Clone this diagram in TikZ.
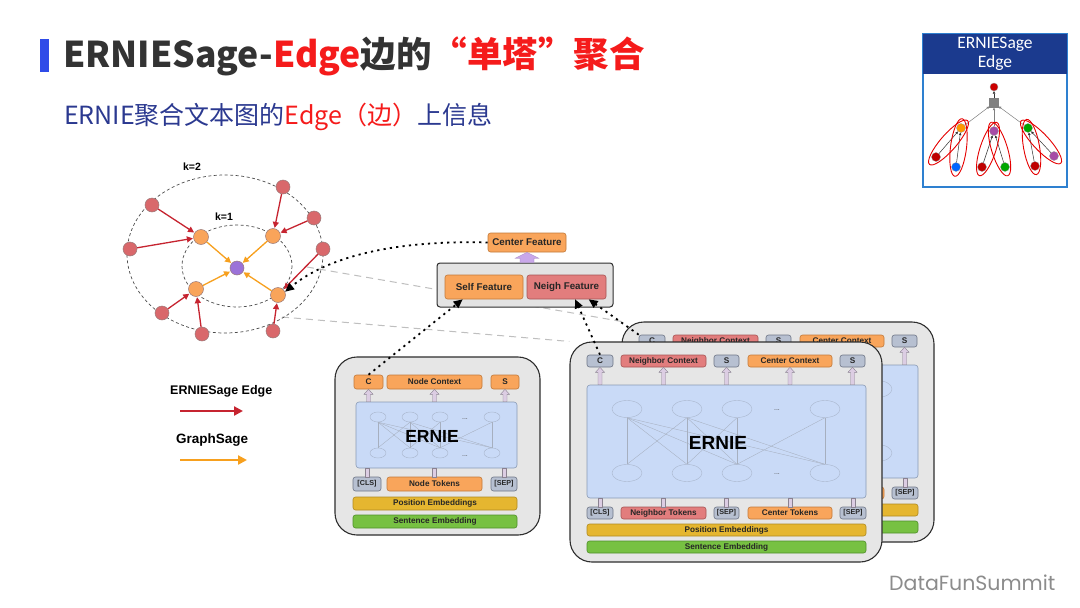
\documentclass[tikz,border=0pt]{standalone}
\usepackage{fontspec}
\setmainfont{Liberation Sans}
\newfontfamily\cjk{Noto Sans CJK SC}
\newfontfamily\lab{Liberation Sans}
\newfontfamily\cali{Carlito}
\newfontfamily\dfs{Poppins}
\usetikzlibrary{arrows.meta,calc,shapes.geometric}
\pgfdeclarelayer{back}
\pgfdeclarelayer{bg}
\pgfsetlayers{back,bg,main}
\definecolor{tgray}{HTML}{333333}
\definecolor{tred}{HTML}{F51B1B}
\definecolor{sblue}{HTML}{2B3990}
\definecolor{barblue}{HTML}{2F4BE8}
\definecolor{cardfill}{HTML}{E6E6E6}
\definecolor{cardln}{HTML}{2E2E2E}
\definecolor{tokgray}{HTML}{B7C0D1}
\definecolor{tokgrayln}{HTML}{6E7687}
\definecolor{tokor}{HTML}{F9A55B}
\definecolor{tokorln}{HTML}{C27A3A}
\definecolor{tokred}{HTML}{E27D7D}
\definecolor{tokredln}{HTML}{A65555}
\definecolor{tokyel}{HTML}{E5B630}
\definecolor{tokyelln}{HTML}{B08A20}
\definecolor{tokgrn}{HTML}{77C142}
\definecolor{tokgrnln}{HTML}{4F8F2A}
\definecolor{eboxfill}{HTML}{C9DAF7}
\definecolor{eboxln}{HTML}{8A9BB5}
\definecolor{ellln}{HTML}{A9B6CC}
\definecolor{meshln}{HTML}{A6AFBF}
\definecolor{arrfill}{HTML}{DCCDE3}
\definecolor{arrln}{HTML}{8A8290}
\definecolor{gred}{HTML}{D9686B}
\definecolor{gnodeln}{HTML}{9A7A7A}
\definecolor{gor}{HTML}{F9A45A}
\definecolor{gpur}{HTML}{9B72D8}
\definecolor{garred}{HTML}{C62430}
\definecolor{garor}{HTML}{F7A01E}
\definecolor{featfill}{HTML}{E3E3E3}
\definecolor{featarr}{HTML}{C9A7EA}
\definecolor{iconblue}{HTML}{2E80D0}
\definecolor{hdrblue}{HTML}{1B3A8E}
\definecolor{dfgray}{HTML}{8C8C8C}
\tikzset{
 card/.style={draw=cardln, fill=cardfill, line width=1.1pt, rounded corners=22pt},
 tokbase/.style={rounded corners=2.5pt, line width=0.6pt, inner sep=0pt, font=\lab\bfseries\fontsize{8.2}{9}\selectfont, text=black!85},
 tsm/.style={font=\lab\bfseries\fontsize{7.2}{8}\selectfont},
 tokg/.style={tokbase, fill=tokgray, draw=tokgrayln},
 toko/.style={tokbase, fill=tokor, draw=tokorln},
 tokr/.style={tokbase, fill=tokred, draw=tokredln},
 toky/.style={tokbase, fill=tokyel, draw=tokyelln},
 tokgr/.style={tokbase, fill=tokgrn, draw=tokgrnln},
 featbox/.style={draw=cardln, fill=featfill, line width=1pt, rounded corners=3pt},
 fbig/.style={font=\lab\bfseries\fontsize{9.8}{11}\selectfont},
 ebox/.style={draw=eboxln, fill=eboxfill, line width=0.6pt, rounded corners=3pt},
 ell/.style={ellipse, draw=ellln, line width=0.4pt, inner sep=0pt},
 mesh/.style={draw=meshln, line width=0.35pt},
 arrst/.style={fill=arrfill, draw=arrln, line width=0.4pt},
 dotsl/.style={font=\lab\fontsize{7}{8}\selectfont, text=black!70},
 gnode/.style={circle, draw=gnodeln, line width=0.5pt, minimum size=14pt, inner sep=0pt},
 rnode/.style={gnode, fill=gred},
 onode/.style={gnode, fill=gor, minimum size=15pt},
 pnode/.style={gnode, fill=gpur},
 rarr/.style={draw=garred, line width=1.3pt, -{Triangle[length=6pt,width=6pt]}, shorten >=0.5pt},
 oarr/.style={draw=garor, line width=1.3pt, -{Triangle[length=6pt,width=6pt]}, shorten >=0.5pt},
 dotarr/.style={line width=1.8pt, dash pattern=on 2.2pt off 4.2pt, -{Triangle[length=9pt,width=8pt]}},
 graydash/.style={draw=black!25, line width=1pt, dash pattern=on 7pt off 5pt},
 ringd/.style={draw=black!70, line width=0.7pt, dash pattern=on 3pt off 2.5pt},
 klab/.style={font=\lab\bfseries\fontsize{10.5}{12}\selectfont},
 leglab/.style={font=\lab\bfseries\fontsize{12.5}{14}\selectfont, anchor=west, inner sep=0pt},
 inode/.style={circle, draw=black!40, line width=0.3pt, minimum size=9pt, inner sep=0pt},
 iarr/.style={draw=black!80, line width=0.5pt, -{Triangle[length=2.5pt,width=2.5pt]}},
 iring/.style={draw=red!90!black, line width=0.9pt},
}
\newif\ifbacktower
\newcommand\vt[1]{\ifbacktower\else#1\fi}
\newcommand\boxn[7]{\node[#1, minimum width={((#5)-(#3))*1pt}, minimum height={((#6)-(#4))*1pt}] (#2) at ({((#3)+(#5))/2},{((#4)+(#6))/2}) {#7};}
\newcommand\tbox[6]{\boxn{#1}{\tp#2}{\tx+#3}{\ty+#4}{\tx+#5}{\ty+#6}}
% block arrow from box (#2) up to token (#1)
\newcommand\upblk[2]{\filldraw[arrst] let \p1=(#1.south), \p2=(#2.north) in (\x1-2pt,\y2) -- (\x1-2pt,\y1-5pt) -- (\x1-4.5pt,\y1-5pt) -- (\x1,\y1) -- (\x1+4.5pt,\y1-5pt) -- (\x1+2pt,\y1-5pt) -- (\x1+2pt,\y2) -- cycle;}
\newcommand\stemblk[2]{\filldraw[arrst] let \p1=(#1.north), \p2=(#2.south) in (\x1-2pt,\y1) rectangle (\x1+2pt,\y2);}
\newcommand\drawtower{%
 \tbox{card}{card}{570}{342}{882}{562}{}
 \tbox{tokg}{C}{587}{355}{613}{367}{C}
 \tbox{tokr}{NC}{621}{355}{706}{367}{Neighbor Context}
 \tbox{tokg}{Sa}{714}{355}{739}{367}{S}
 \tbox{toko}{CC}{748}{355}{832}{367}{Center Context}
 \tbox{tokg}{Sb}{840}{355}{865}{367}{S}
 \tbox{ebox}{E}{587}{385}{866}{498}{}
 \foreach \n/\xx in {1/627,2/687,3/737,4/825}{
   \node[ell, minimum width=30pt, minimum height=17pt] (\tp t\n) at ({\tx+\xx},{\ty+409}) {};
   \node[ell, minimum width=30pt, minimum height=17pt] (\tp b\n) at ({\tx+\xx},{\ty+473}) {};
 }
 \node[dotsl] (\tp td) at ({\tx+777},{\ty+410}) {\vt{...}};
 \node[dotsl] (\tp bd) at ({\tx+777},{\ty+474}) {\vt{...}};
 \foreach \a/\b in {1/1,1/2,2/1,2/2,2/3,3/1,3/2,3/3,3/4,4/1,4/2,4/4}{
   \draw[mesh] (\tp b\a.north) -- (\tp t\b.south);
 }
 \node[font=\lab\bfseries\fontsize{19}{21}\selectfont] (\tp lab) at ({\tx+718},{\ty+443}) {\vt{ERNIE}};
 \tbox{tokg,tsm}{CLS}{587}{507}{613}{519}{\vt{[CLS]}}
 \tbox{tokr}{NT}{621}{507}{706}{519}{\vt{Neighbor Tokens}}
 \tbox{tokg,tsm}{SEa}{714}{507}{739}{519}{\vt{[SEP]}}
 \tbox{toko}{CT}{748}{507}{832}{519}{\vt{Center Tokens}}
 \tbox{tokg,tsm}{SEb}{840}{507}{866}{519}{[SEP]}
 \tbox{toky}{PE}{587}{524}{866}{536}{\vt{Position Embeddings}}
 \tbox{tokgr}{SE}{587}{541}{866}{553}{\vt{Sentence Embedding}}
 \foreach \k in {C,NC,Sa,CC,Sb}{\upblk{\tp\k}{\tp E}}
 \foreach \k in {CLS,NT,SEa,CT,SEb}{\stemblk{\tp\k}{\tp E}}
}
\begin{document}
\begin{tikzpicture}[x=1pt,y=-1pt]
\begin{pgfonlayer}{back}
\fill[white] (0,0) rectangle (1080,608);
\end{pgfonlayer}
\useasboundingbox (0,0) rectangle (1080,608);
% ---------- title ----------
\fill[barblue] (40,39) rectangle (49,72);
\node[anchor=west, inner sep=0pt, font=\cjk\bfseries\fontsize{35.5}{40}\selectfont] (title) at (63,56)
  {\textcolor{tgray}{ERNIESage-}\textcolor{tred}{Edge}\textcolor{tgray}{边的}\textcolor{tred}{“单塔”聚合}};
\node[anchor=west, inner sep=0pt, font=\cjk\fontsize{25}{27}\selectfont] (subtitle) at (64,117)
  {\textcolor{sblue}{ERNIE聚合文本图的}\textcolor{tred}{Edge（边）}\textcolor{sblue}{上信息}};
% ---------- icon ----------
\node[draw=iconblue, line width=1.3pt, fill=white, minimum width=144pt, minimum height=153pt, inner sep=0pt] (icon) at (995,110.5) {};
\boxn{fill=hdrblue, inner sep=0pt, text=white, align=center, font=\cali\fontsize{17.5}{19}\selectfont}{ihdr}{923}{34}{1067}{74}{ERNIESage\\Edge}
\node[inode, fill=red!80!black, minimum size=8pt] (ir) at (994,87) {};
\node[draw=black!50, fill=black!50, minimum size=9pt, inner sep=0pt] (isq) at (994,103) {};
\node[inode, fill=orange!80!yellow] (ia) at (961,128) {};
\node[inode, fill=violet!70] (ib) at (994,131) {};
\node[inode, fill=green!65!black] (ic) at (1028,128) {};
\node[inode, fill=red!75!black] (il1) at (936,157) {};
\node[inode, fill=blue!60!cyan] (il2) at (956,167) {};
\node[inode, fill=red!75!black] (il3) at (982,167) {};
\node[inode, fill=green!65!black] (il4) at (1005,167) {};
\node[inode, fill=red!75!black] (il5) at (1035,166) {};
\node[inode, fill=violet!70] (il6) at (1054,156) {};
\draw[iarr] (isq) -- (ir);
\foreach \c in {ia,ib,ic}{\draw[iarr, draw=black!50] (\c) -- (isq);}
\draw[iarr] (il1) -- (ia); \draw[iarr] (il2) -- (ia);
\draw[iarr] (il3) -- (ib); \draw[iarr] (il4) -- (ib);
\draw[iarr] (il5) -- (ic); \draw[iarr] (il6) -- (ic);
\draw[iring, rotate around={49:(948.5,142.5)}] (948.5,142.5) ellipse (29 and 8);
\draw[iring, rotate around={83:(958.5,147.5)}] (958.5,147.5) ellipse (29 and 8);
\draw[iring, rotate around={72:(988,149)}] (988,149) ellipse (28 and 8);
\draw[iring, rotate around={107:(999.5,149)}] (999.5,149) ellipse (28 and 8);
\draw[iring, rotate around={100:(1031.5,147)}] (1031.5,147) ellipse (28 and 8);
\draw[iring, rotate around={133:(1041,142)}] (1041,142) ellipse (29 and 8);
% ---------- graph ----------
\draw[ringd] (225,254) ellipse (98 and 79);
\draw[ringd] (237,266) ellipse (55 and 41);
\node[klab] (k2) at (192,167) {k=2};
\node[klab] (k1) at (224,217) {k=1};
\node[pnode] (c) at (237,268) {};
\node[onode] (o1) at (201,237) {};
\node[onode] (o2) at (273,236) {};
\node[onode] (o3) at (196,289) {};
\node[onode] (o4) at (278,295) {};
\node[rnode] (r1) at (152,205) {};
\node[rnode] (r2) at (283,187) {};
\node[rnode] (r3) at (314,218) {};
\node[rnode] (r4) at (130,249) {};
\node[rnode] (r5) at (323,249) {};
\node[rnode] (r6) at (162,313) {};
\node[rnode] (r7) at (202,334) {};
\node[rnode] (r8) at (273,331) {};
\draw[rarr] (r1) -- (o1); \draw[rarr] (r4) -- (o1);
\draw[rarr] (r2) -- (o2); \draw[rarr] (r3) -- (o2);
\draw[rarr] (r5) -- (o4); \draw[rarr] (r8) -- (o4);
\draw[rarr] (r6) -- (o3); \draw[rarr] (r7) -- (o3);
\foreach \o in {o1,o2,o3,o4}{\draw[oarr] (\o) -- (c);}
% ---------- legend ----------
\node[leglab] (lg1) at (170,391) {ERNIESage Edge};
\node[leglab, font=\lab\bfseries\fontsize{13.5}{15}\selectfont] (lg2) at (176,440) {GraphSage};
\coordinate (l1a) at (180,411); \coordinate (l1b) at (243,411);
\coordinate (l2a) at (180,460); \coordinate (l2b) at (247,460);
\draw[draw=garred, line width=2.2pt, -{Triangle[length=9pt,width=9pt]}] (l1a) -- (l1b);
\draw[draw=garor, line width=2.2pt, -{Triangle[length=9pt,width=9pt]}] (l2a) -- (l2b);
% ---------- towers ----------
\def\tp{b}\def\tx{52}\def\ty{-20}\backtowertrue
\drawtower
\def\tp{f}\def\tx{0}\def\ty{0}\backtowerfalse
\drawtower
% ---------- single tower ----------
\boxn{card}{lcard}{335}{357}{540}{535}{}
\boxn{toko}{lC}{354}{375}{383}{389}{C}
\boxn{toko}{lNC}{387}{375}{482}{389}{Node Context}
\boxn{toko}{lS}{491}{375}{519}{389}{S}
\boxn{ebox}{lE}{356}{402}{517}{468}{}
\foreach \n/\xx in {1/378,2/410,3/440,4/492}{
  \node[ell, minimum width=16pt, minimum height=10pt] (lt\n) at (\xx,417) {};
  \node[ell, minimum width=16pt, minimum height=10pt] (lb\n) at (\xx,453) {};
}
\node[dotsl] (ltd) at (465,419) {...};
\node[dotsl] (lbd) at (465,456) {...};
\foreach \a/\b in {1/1,1/2,2/1,2/2,2/3,3/1,3/2,3/3,3/4,4/1,4/2,4/4}{
  \draw[mesh] (lb\a.north) -- (lt\b.south);
}
\node[font=\lab\bfseries\fontsize{17.5}{19}\selectfont] (llab) at (432,436) {ERNIE};
\boxn{tokg,tsm}{lCLS}{353}{477}{381}{491}{[CLS]}
\boxn{toko}{lNT}{387}{477}{482}{491}{Node Tokens}
\boxn{tokg,tsm}{lSEP}{491}{477}{517}{491}{[SEP]}
\boxn{toky}{lPE}{353}{497}{517}{510}{Position Embeddings}
\boxn{tokgr}{lSE}{353}{515}{517}{528}{Sentence Embedding}
\foreach \k in {lC,lNC,lS}{\upblk{\k}{lE}}
\foreach \k in {lCLS,lNT,lSEP}{\stemblk{\k}{lE}}
% ---------- feature box ----------
\boxn{featbox}{feat}{437}{263}{613}{307}{}
\boxn{toko,fbig}{self}{445}{275}{523}{299}{Self Feature}
\boxn{tokr,fbig}{neigh}{527}{275}{606}{299}{Neigh Feature}
\boxn{toko,fbig}{cf}{488}{233}{566}{252}{Center Feature}
\filldraw[fill=featarr, draw=featarr!80!black, line width=0.3pt] let \p1=(cf.south), \p2=(feat.north) in
  (\x1-7pt,\y2) -- (\x1-7pt,\y1-6pt) -- (\x1-12pt,\y1-6pt) -- (\x1,\y1) -- (\x1+12pt,\y1-6pt) -- (\x1+7pt,\y1-6pt) -- (\x1+7pt,\y2) -- cycle;
% ---------- gray dashed guide lines ----------
\coordinate (g1) at (307,267);
\coordinate (g2) at (282,317);
\begin{pgfonlayer}{bg}
\draw[graydash] (g1) -- (bcard.north west);
\draw[graydash] (g2) -- (fcard.north west);
\end{pgfonlayer}
% ---------- dotted arrows ----------
\draw[dotarr] (cf.west) .. controls (400,240) and (330,255) .. (o4.25);
\draw[dotarr] (lC.north) -- (self.-150);
\draw[dotarr] (fC.north) -- (neigh.-55);
\draw[dotarr] (bC.north west) -- (neigh.-29);
% ---------- footer ----------
\node[anchor=west, inner sep=0pt, text=dfgray, font=\dfs\fontsize{20.5}{22}\selectfont] (dfs) at (889,583) {DataFunSummit};
\end{tikzpicture}
\end{document}
